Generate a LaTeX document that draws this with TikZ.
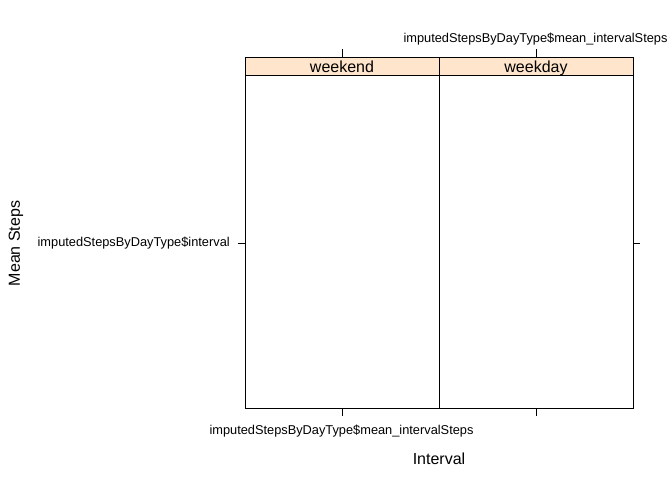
\documentclass[tikz,border=0pt]{standalone}
\usepackage{fontspec}
\setmainfont{Liberation Sans}
\definecolor{stripbg}{HTML}{FFE5CC}
\begin{document}
\begin{tikzpicture}[x=0.75pt,y=-0.75pt,
  frame/.style={draw=black,line width=0.75pt},
  tick/.style={draw=black,line width=0.75pt},
  ticklab/.style={font=\fontsize{9.6pt}{11pt}\selectfont,inner sep=0pt},
  striplab/.style={font=\fontsize{12pt}{14pt}\selectfont,inner sep=0pt,anchor=base},
  axislab/.style={font=\fontsize{12pt}{14pt}\selectfont,inner sep=0pt}]
\useasboundingbox (0,0) rectangle (672,480);
% strips
\path[fill=stripbg] (245,57) rectangle (633,75.5);
\node[striplab] (s1) at (342,72) {weekend};
\node[striplab] (s2) at (536,72) {weekday};
% panels
\draw[frame] (245,57) rectangle (633,408.5);
\draw[frame] (245,75.5) -- (633,75.5);
\draw[frame] (439,57) -- (439,408.5);
% ticks
\coordinate (tt1a) at (342,49); \coordinate (tt1b) at (342,57);
\coordinate (tt2a) at (536,49); \coordinate (tt2b) at (536,57);
\coordinate (bt1a) at (342,408.5); \coordinate (bt1b) at (342,416);
\coordinate (bt2a) at (536,408.5); \coordinate (bt2b) at (536,416);
\coordinate (lta) at (238,243); \coordinate (ltb) at (245,243);
\coordinate (rta) at (633,243); \coordinate (rtb) at (640,243);
\draw[tick] (tt1a) -- (tt1b);
\draw[tick] (tt2a) -- (tt2b);
\draw[tick] (bt1a) -- (bt1b);
\draw[tick] (bt2a) -- (bt2b);
\draw[tick] (lta) -- (ltb);
\draw[tick] (rta) -- (rtb);
% tick labels
\node[ticklab] (toplab) at (535.5,39) {imputedStepsByDayType\$mean\_intervalSteps};
\node[ticklab] (botlab) at (341.5,431) {imputedStepsByDayType\$mean\_intervalSteps};
\node[ticklab,anchor=east] (leftlab) at (230,243) {imputedStepsByDayType\$interval};
% axis titles
\node[axislab] (xlab) at (439,459) {Interval};
\node[axislab,rotate=90] (ylab) at (16,243.5) {Mean Steps};
\end{tikzpicture}
\end{document}
